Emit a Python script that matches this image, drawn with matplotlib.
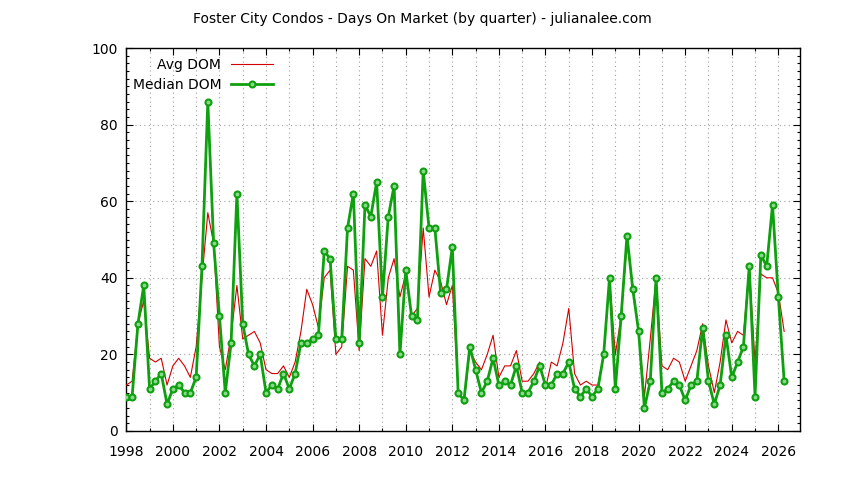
import numpy as np
import matplotlib
matplotlib.use("Agg")
import matplotlib.pyplot as plt
from matplotlib.ticker import MultipleLocator

plt.rcParams['font.family'] = ['DejaVu Sans']

title = "Foster City Condos - Days On Market (by quarter) - julianalee.com"
start_year = 1998

median_dom = [
    9, 9, 28, 38,
    11, 13, 15, 7,
    11, 12, 10, 10,
    14, 43, 86, 49,
    30, 10, 23, 62,
    28, 20, 17, 20,
    10, 12, 11, 15,
    11, 15, 23, 23,
    24, 25, 47, 45,
    24, 24, 53, 62,
    23, 59, 56, 65,
    35, 56, 64, 20,
    42, 30, 29, 68,
    53, 53, 36, 37,
    48, 10, 8, 22,
    16, 10, 13, 19,
    12, 13, 12, 17,
    10, 10, 13, 17,
    12, 12, 15, 15,
    18, 11, 9, 11,
    9, 11, 20, 40,
    11, 30, 51, 37,
    26, 6, 13, 40,
    10, 11, 13, 12,
    8, 12, 13, 27,
    13, 7, 12, 25,
    14, 18, 22, 43,
    9, 46, 43, 59,
    35, 13,
]

avg_dom = [
    12, 13, 28, 34,
    19, 18, 19, 12,
    17, 19, 17, 14,
    22, 40, 57, 49,
    22, 16, 25, 38,
    24, 25, 26, 23,
    16, 15, 15, 17,
    14, 18, 26, 37,
    33, 27, 40, 42,
    20, 22, 43, 42,
    21, 45, 43, 47,
    25, 40, 45, 35,
    41, 30, 32, 53,
    35, 42, 39, 33,
    38, 11, 7, 21,
    18, 16, 20, 25,
    14, 17, 17, 21,
    13, 13, 15, 18,
    11, 18, 17, 23,
    32, 15, 12, 13,
    12, 12, 20, 40,
    20, 30, 49, 38,
    26, 9, 24, 40,
    17, 16, 19, 18,
    13, 17, 21, 28,
    17, 10, 18, 29,
    23, 26, 25, 43,
    18, 41, 40, 40,
    36, 26,
]

x_ticks = [1998, 2000, 2002, 2004, 2006, 2008, 2010, 2012, 2014, 2016,
           2018, 2020, 2022, 2024, 2026]
y_ticks = [0, 20, 40, 60, 80, 100]

quarters = start_year + np.arange(len(median_dom)) / 4.0

fig = plt.figure(figsize=(8.44, 4.80), dpi=100)
ax = fig.add_axes([126.3 / 844, 1 - 431 / 480, (800 - 126.3) / 844, (431 - 48) / 480])

ax.plot(quarters, avg_dom, color='#d40000', lw=0.8, label='Avg DOM', zorder=3)
ax.plot(quarters, median_dom, color='#0ea00e', lw=2.0, marker='o', ms=4.3,
        mfc='#8ad88a', mec='#0ea00e', mew=1.5, label='Median DOM', zorder=4)

ax.set_xlim(1998, 2026.93)
ax.set_ylim(0, 100)
ax.set_xticks(x_ticks)
ax.set_xticklabels([str(v) for v in x_ticks])
ax.set_yticks(y_ticks)
ax.xaxis.set_minor_locator(MultipleLocator(1))
ax.yaxis.set_minor_locator(MultipleLocator(2))
ax.tick_params(which='both', direction='in', top=True, right=True, labelsize=10, colors='black')
ax.tick_params(which='major', length=5, width=0.8)
ax.tick_params(which='minor', length=2.5, width=0.8)
ax.tick_params(axis='x', which='major', pad=10)
ax.tick_params(axis='y', which='major', pad=6)

ax.grid(True, which='minor', axis='x', color='#a0a0a0', lw=0.8, linestyle=(0, (1, 3)))
ax.grid(True, which='major', axis='x', color='#a0a0a0', lw=0.8, linestyle=(0, (1, 3)))
ax.grid(True, which='major', axis='y', color='#a0a0a0', lw=0.8, linestyle=(0, (1, 3)))
ax.set_axisbelow(True)
for s in ax.spines.values():
    s.set_linewidth(1.0)
    s.set_color('black')

leg = ax.legend(loc='upper left', bbox_to_anchor=(-0.003, 0.995), frameon=False,
                markerfirst=False, handlelength=3.0, handletextpad=0.7,
                fontsize=10, labelspacing=0.42, borderaxespad=0.2)
for t in leg.get_texts():
    t.set_ha('right')
leg._legend_box.align = 'right'

fig.text(422 / 844, 1 - 19 / 480, title, ha='center', va='center', fontsize=10)

fig.savefig('out.png', dpi=100)
